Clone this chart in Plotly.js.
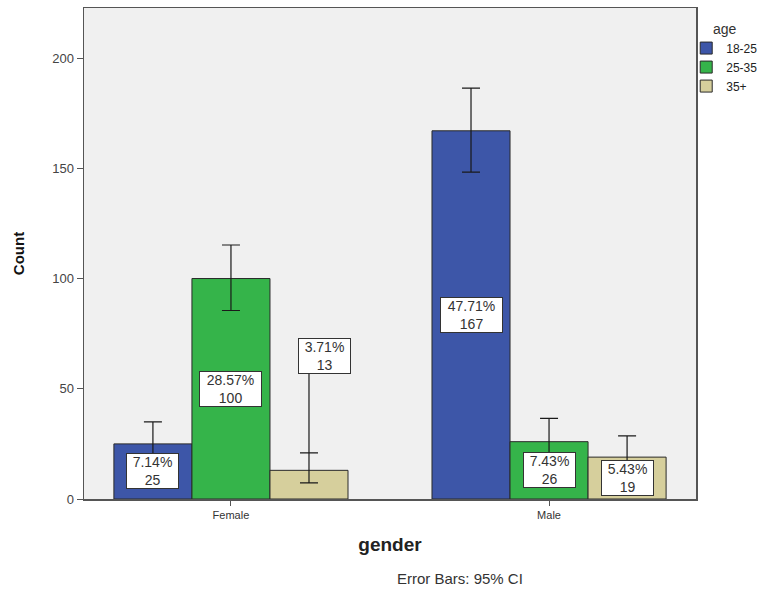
<!DOCTYPE html>
<html><head><meta charset="utf-8">
<script src="https://cdn.plot.ly/plotly-3.0.1.min.js"></script>
<style>body{margin:0;background:#fff}#chart{width:760px;height:592px}</style>
</head><body><div id="chart"></div>
<script>
// ---- data ----
const genders = ['Female', 'Male'];
const ageGroups = ['18-25', '25-35', '35+'];
const counts18_25 = [25, 167];
const counts25_35 = [100, 26];
const counts35p = [13, 19];
const pct18_25 = ['7.14%', '47.71%'];
const pct25_35 = ['28.57%', '7.43%'];
const pct35p = ['3.71%', '5.43%'];
const ciHigh18_25 = [35.0, 186.4];
const ciLow18_25 = [15.4, 148.3];
const ciHigh25_35 = [115.2, 36.6];
const ciLow25_35 = [85.5, 16.0];
const ciHigh35p = [20.9, 28.6];
const ciLow35p = [7.3, 10.4];
const yTicks = [0, 50, 100, 150, 200];

// ---- styling ----
const colors = ['#3d56a8', '#35b44a', '#d6cf9c'];
const FONT = 'Arial, "Liberation Sans", sans-serif';
const bargap = 0.264;
const barW = (1 - bargap) / 3;

const series = [
  {name: ageGroups[0], y: counts18_25, pct: pct18_25, hi: ciHigh18_25, lo: ciLow18_25},
  {name: ageGroups[1], y: counts25_35, pct: pct25_35, hi: ciHigh25_35, lo: ciLow25_35},
  {name: ageGroups[2], y: counts35p, pct: pct35p, hi: ciHigh35p, lo: ciLow35p}
];

const traces = series.map((s, i) => ({
  type: 'bar',
  name: s.name,
  x: genders,
  y: s.y,
  marker: {color: colors[i], line: {color: '#2a2a2a', width: 1}},
  error_y: {
    type: 'data', symmetric: false,
    array: s.hi.map((h, k) => h - s.y[k]),
    arrayminus: s.lo.map((l, k) => s.y[k] - l),
    color: '#1a1a1a', thickness: 1.2, width: 9
  },
  hoverinfo: 'skip'
}));

const annotations = [];
const shapes = [];
series.forEach((s, i) => {
  s.y.forEach((v, k) => {
    const xPos = k + (i - 1) * barW;
    const txt = s.pct[k] + '<br>' + v;
    const lifted = (i === 2 && k === 0); // small Female 35+ bar: label lifted above with leader line
    const yPos = lifted ? s.hi[k] + 44 : v / 2;
    if (lifted) {
      shapes.push({type: 'line', xref: 'x', yref: 'y', x0: xPos, x1: xPos,
        y0: s.hi[k], y1: yPos, line: {color: '#1a1a1a', width: 1.2}});
    }
    annotations.push({
      x: xPos, y: yPos, xref: 'x', yref: 'y', text: txt, showarrow: false,
      xshift: lifted ? 16 : 0,
      font: {family: FONT, size: 14, color: '#333'},
      bgcolor: '#ffffff', bordercolor: '#333', borderwidth: 1, borderpad: 0,
      width: s.pct[k].length * 10 + 1, height: 34
    });
  });
});

annotations.push({
  xref: 'paper', yref: 'paper', x: 0.614, y: -0.183, showarrow: false,
  text: 'Error Bars: 95% CI', font: {family: FONT, size: 15, color: '#333'}
});

const layout = {
  width: 760, height: 592,
  margin: {l: 84, r: 64, t: 8, b: 93, autoexpand: false},
  paper_bgcolor: '#ffffff',
  plot_bgcolor: '#f0f0f0',
  barmode: 'group',
  bargap: bargap,
  bargroupgap: 0,
  showlegend: true,
  legend: {
    x: 0.984, y: 0.985, xanchor: 'left', yanchor: 'top',
    bgcolor: 'rgba(0,0,0,0)',
    title: {text: 'age', side: 'top center', font: {family: FONT, size: 14, color: '#333'}},
    font: {family: FONT, size: 12, color: '#222'},
    itemclick: false, itemdoubleclick: false
  },
  xaxis: {
    type: 'category',
    range: [-0.462, 1.462],
    showline: true, mirror: true, linecolor: '#555', linewidth: 1.5,
    ticks: 'outside', ticklen: 5, tickcolor: '#555',
    tickfont: {family: FONT, size: 11, color: '#333'},
    showgrid: false, zeroline: false,
    title: {text: 'gender', font: {family: FONT, size: 19, color: '#222', weight: 'bold'}, standoff: 18}
  },
  yaxis: {
    range: [0, 222.7],
    tickvals: yTicks,
    showline: true, mirror: true, linecolor: '#555', linewidth: 1.5,
    ticks: 'outside', ticklen: 6, tickcolor: '#555',
    tickfont: {family: FONT, size: 13, color: '#444'},
    showgrid: false, zeroline: false,
    title: {text: 'Count', font: {family: FONT, size: 15, color: '#111', weight: 'bold'}, standoff: 24}
  },
  annotations: annotations,
  shapes: shapes
};

Plotly.newPlot('chart', traces, layout, {displayModeBar: false, staticPlot: true});
</script>
</body></html>
